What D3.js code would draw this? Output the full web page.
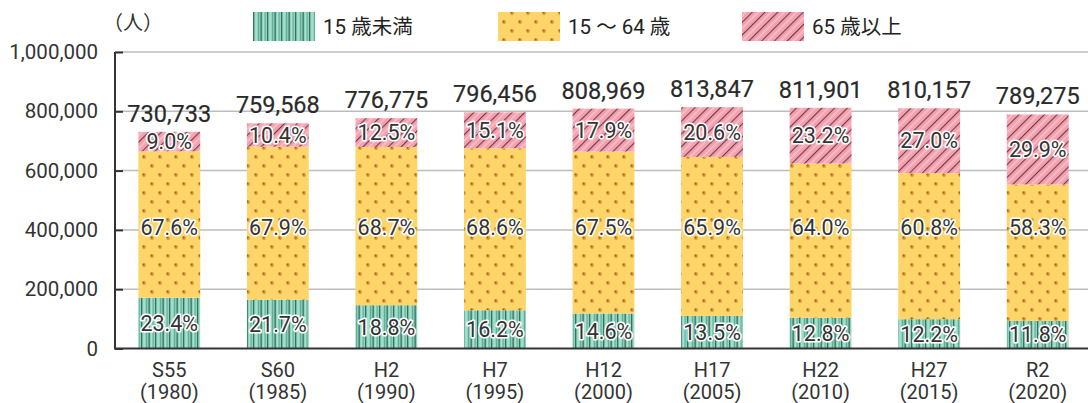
<!DOCTYPE html>
<html><head><meta charset="utf-8">
<script src="https://cdn.jsdelivr.net/npm/d3@7"></script>
<style>
body{margin:0;background:#fff;}
svg{display:block;font-family:Roboto,"Noto Sans CJK JP",sans-serif;}
</style></head><body>
<svg id="c" width="1088" height="403"></svg>
<script>
const categories = ["S55","S60","H2","H7","H12","H17","H22","H27","R2"];
const years = ["(1980)","(1985)","(1990)","(1995)","(2000)","(2005)","(2010)","(2015)","(2020)"];
const totals = [730733,759568,776775,796456,808969,813847,811901,810157,789275];
const pctUnder15 = [23.4,21.7,18.8,16.2,14.6,13.5,12.8,12.2,11.8];
const pct15to64 = [67.6,67.9,68.7,68.6,67.5,65.9,64.0,60.8,58.3];
const pct65over = [9.0,10.4,12.5,15.1,17.9,20.6,23.2,27.0,29.9];
const seriesNames = ["15 歳未満","15 ～ 64 歳","65 歳以上"];
const yTicks = [0,200000,400000,600000,800000,1000000];

const svg = d3.select("#c");
const defs = svg.append("defs");

// green vertical stripes
const pg = defs.append("pattern").attr("id","pGreen").attr("patternUnits","userSpaceOnUse")
  .attr("width",14).attr("height",10);
pg.append("rect").attr("width",14).attr("height",10).attr("fill","#8dd4bd");
[[1,1.3,"#3d6e62"],[3.5,1.2,"#b2e3d2"],[6,1.2,"#5fae98"],[8.5,1.3,"#3d6e62"],[11,1.3,"#aee0cf"],[12.6,1,"#5fae98"]]
  .forEach(([x,w,c])=>pg.append("rect").attr("x",x).attr("y",0).attr("width",w).attr("height",10).attr("fill",c));

// yellow dots
const py = defs.append("pattern").attr("id","pYellow").attr("patternUnits","userSpaceOnUse")
  .attr("width",16).attr("height",18).attr("x",3).attr("y",0);
py.append("rect").attr("width",16).attr("height",18).attr("fill","#fdd568");
[[5,4],[13,13]].forEach(([x,y])=>{
  py.append("circle").attr("cx",x).attr("cy",y).attr("r",1.9).attr("fill","#d6983a");
  py.append("circle").attr("cx",x-0.5).attr("cy",y-0.5).attr("r",0.9).attr("fill","#a8671c");
});

// pink diagonal lines
const pp = defs.append("pattern").attr("id","pPink").attr("patternUnits","userSpaceOnUse")
  .attr("width",9).attr("height",9).attr("patternTransform","rotate(45)");
pp.append("rect").attr("width",9).attr("height",9).attr("fill","#f4a0af");
pp.append("rect").attr("x",0).attr("y",0).attr("width",1.1).attr("height",9).attr("fill","#6e3c48");
pp.append("rect").attr("x",4.2).attr("y",0).attr("width",1.4).attr("height",9).attr("fill","#f9c7cf");

const fills = ["url(#pGreen)","url(#pYellow)","url(#pPink)"];

const x = d3.scaleBand().domain(categories).range([115,1092]).paddingInner(0.43).paddingOuter(0.215);
const y = d3.scaleLinear().domain([0,1000000]).range([348.5,52]);

// gridlines
svg.append("g").selectAll("line").data(yTicks.filter(d=>d>0)).join("line")
  .attr("x1",115).attr("x2",1088).attr("y1",d=>y(d)).attr("y2",d=>y(d))
  .attr("stroke","#bdbdbd").attr("stroke-width",1.5);

// y axis
const yAxis = d3.axisRight(y).tickValues(yTicks).tickSize(8).tickFormat("");
const ya = svg.append("g").attr("transform","translate(115,0)").call(yAxis);
ya.select(".domain").attr("stroke","#333").attr("stroke-width",2).attr("d","M0,52V348.5");
ya.selectAll(".tick line").attr("stroke","#333").attr("stroke-width",2);
svg.append("g").selectAll("text").data(yTicks).join("text")
  .attr("x",98).attr("y",d=>y(d)).attr("dy","0.35em").attr("text-anchor","end")
  .attr("font-size",20.5).attr("fill","#333").text(d3.format(","));

// stacks
const data = categories.map((c,i)=>({cat:c,total:totals[i],p:[pctUnder15[i],pct15to64[i],pct65over[i]]}));
data.forEach(d=>{
  let acc=0; d.seg=d.p.map((p,k)=>{const v=d.total*p/100; const s={k,p,y0:acc,y1:acc+v}; acc+=v; return s;});
  d.seg[2].y1 = d.total;
});
const midLabelY = y(408000);
const g = svg.append("g");
data.forEach(d=>{
  const gg = g.append("g");
  gg.selectAll("rect").data(d.seg).join("rect")
    .attr("x",x(d.cat)).attr("width",x.bandwidth())
    .attr("y",s=>y(s.y1)).attr("height",s=>y(s.y0)-y(s.y1))
    .attr("fill",s=>fills[s.k]);
  gg.selectAll("text.pct").data(d.seg).join("text").attr("class","pct")
    .attr("x",x(d.cat)+x.bandwidth()/2)
    .attr("y",s=>s.k===1 ? midLabelY : (y(s.y0)+y(s.y1))/2).attr("dy","0.36em")
    .attr("text-anchor","middle").attr("font-size",21.5)
    .attr("fill","#333").attr("stroke","#fff").attr("stroke-width",3.2).attr("paint-order","stroke")
    .attr("stroke-linejoin","round")
    .text(s=>s.p.toFixed(1)+"%");
  gg.append("text").attr("x",x(d.cat)+x.bandwidth()/2).attr("y",y(d.total)-10)
    .attr("text-anchor","middle").attr("font-size",23.5).attr("fill","#2a2a2a")
    .attr("stroke","#2a2a2a").attr("stroke-width",0.2)
    .text(d3.format(",")(d.total));
});

// baseline
svg.append("line").attr("x1",114).attr("x2",1088).attr("y1",y(0)).attr("y2",y(0))
  .attr("stroke","#333").attr("stroke-width",2);

// x labels
const xl = svg.append("g");
categories.forEach((c,i)=>{
  const cx = x(c)+x.bandwidth()/2;
  xl.append("text").attr("x",cx).attr("y",377).attr("text-anchor","middle").attr("font-size",20).attr("fill","#333").text(c);
  xl.append("text").attr("x",cx).attr("y",399).attr("text-anchor","middle").attr("font-size",20).attr("fill","#333").text(years[i]);
});

// unit
svg.append("text").attr("x",103).attr("y",30).attr("font-size",20).attr("fill","#333").text("（人）");

// legend
const legX = [253,498,742];
seriesNames.forEach((n,k)=>{
  svg.append("rect").attr("x",legX[k]).attr("y",12).attr("width",62).attr("height",29).attr("fill",fills[k]);
  svg.append("text").attr("x",legX[k]+70).attr("y",34).attr("font-size",20.5).attr("fill","#222").text(n);
});
</script>
</body></html>
